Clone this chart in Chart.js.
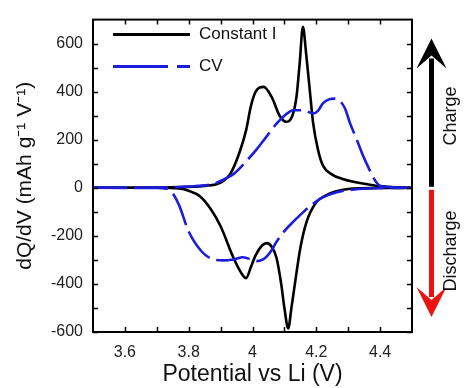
<!DOCTYPE html>
<html>
<head>
<meta charset="utf-8">
<script src="https://cdn.jsdelivr.net/npm/chart.js@4.4.1/dist/chart.umd.min.js"></script>
<style>
html, body { margin: 0; padding: 0; background: #fff; }
#wrap { width: 464px; height: 388px; }
</style>
</head>
<body>
<div id="wrap"><canvas id="grafico" width="464" height="388"></canvas></div>
<script>
// dQ/dV curves, Constant I vs CV (charge above zero, discharge below)

const ciChargeV = [3.5, 3.6, 3.7, 3.8, 3.85, 3.9, 3.93, 3.96, 3.98, 3.995, 4.01, 4.035, 4.06, 4.085, 4.105, 4.125, 4.138, 4.148, 4.158, 4.168, 4.18, 4.19, 4.205, 4.22, 4.25, 4.28, 4.32, 4.36, 4.4, 4.45, 4.5];
const ciChargeY = [0, 0, 1, 4, 8, 22, 57, 150, 240, 340, 400, 420, 378, 300, 275, 300, 380, 520, 670, 560, 400, 270, 160, 95, 55, 38, 24, 15, 7, 2, 0];

const ciDischargeV = [3.5, 3.7, 3.77, 3.8, 3.835, 3.87, 3.9, 3.94, 3.965, 3.98, 3.995, 4.01, 4.03, 4.045, 4.06, 4.075, 4.09, 4.1, 4.112, 4.122, 4.135, 4.15, 4.17, 4.2, 4.23, 4.26, 4.3, 4.4, 4.5];
const ciDischargeY = [0, 0, -3, -12, -35, -90, -160, -290, -355, -376, -330, -280, -240, -230, -245, -290, -400, -500, -585, -500, -380, -250, -140, -60, -32, -15, -5, -1, 0];

const cvChargeV = [3.5, 3.7, 3.75, 3.8, 3.85, 3.877, 3.91, 3.94, 3.98, 4.013, 4.045, 4.076, 4.1, 4.128, 4.16, 4.19, 4.205, 4.22, 4.24, 4.259, 4.275, 4.29, 4.306, 4.33, 4.347, 4.365, 4.379, 4.39, 4.4, 4.43, 4.5];
const cvChargeY = [0, 1, 2, 5, 10, 16, 35, 57, 110, 160, 215, 268, 300, 323, 323, 309, 320, 350, 368, 371, 360, 330, 268, 190, 132, 80, 43, 20, 8, 3, 0];

const cvDischargeV = [3.5, 3.7, 3.72, 3.745, 3.77, 3.8, 3.84, 3.877, 3.91, 3.94, 3.97, 4.0, 4.013, 4.03, 4.045, 4.06, 4.076, 4.1, 4.128, 4.16, 4.19, 4.22, 4.264, 4.32, 4.38, 4.5];
const cvDischargeY = [0, -1, -2, -15, -73, -182, -264, -298, -302, -298, -289, -300, -305, -300, -285, -260, -223, -180, -141, -100, -66, -40, -18, -7, -2, 0];

const xTicks = [3.6, 3.8, 4.0, 4.2, 4.4];
const xMinor = [3.7, 3.9, 4.1, 4.3];
const yTicks = [-600, -400, -200, 0, 200, 400, 600];
const yMinor = [-500, -300, -100, 100, 300, 500];

const legendLabels = ['Constant I', 'CV'];
const arrowLabels = ['Charge', 'Discharge'];

const FONTE = "'Liberation Sans', Arial, Helvetica, sans-serif";
const PRETO = '#000000';
const AZUL = '#1c1cdc';
const VERMELHO = '#ee1111';
const TRACO = [34, 7];

function pontos(xs, ys) {
    return xs.map((x, i) => ({ x: x, y: ys[i] }));
}

// moldura com ticks para dentro nos quatro lados
const moldura = {
    id: 'moldura',
    afterDatasetsDraw(chart) {
        const { ctx, chartArea: a, scales: { x, y } } = chart;
        ctx.save();
        ctx.strokeStyle = '#000';
        ctx.lineWidth = 1.5;
        ctx.beginPath();
        const len = 5;
        xTicks.concat(xMinor).forEach(v => {
            const px = Math.round(x.getPixelForValue(v)) + 0.5;
            ctx.moveTo(px, a.bottom); ctx.lineTo(px, a.bottom - len);
            ctx.moveTo(px, a.top); ctx.lineTo(px, a.top + len);
        });
        yTicks.concat(yMinor).forEach(v => {
            const py = Math.round(y.getPixelForValue(v)) + 0.5;
            ctx.moveTo(a.left, py); ctx.lineTo(a.left + len, py);
            ctx.moveTo(a.right, py); ctx.lineTo(a.right - len, py);
        });
        ctx.stroke();
        ctx.lineWidth = 2;
        ctx.strokeRect(a.left, a.top, a.right - a.left, a.bottom - a.top);
        ctx.restore();
    }
};

// legenda dentro da área do gráfico
const legenda = {
    id: 'legenda',
    afterDraw(chart) {
        const { ctx, chartArea: a } = chart;
        const itens = [
            { texto: legendLabels[0], cor: PRETO, dash: [] },
            { texto: legendLabels[1], cor: AZUL, dash: [55, 9] }
        ];
        ctx.save();
        ctx.font = '17px ' + FONTE;
        ctx.textBaseline = 'middle';
        itens.forEach((it, i) => {
            const yy = a.top + 15 + i * 32;
            ctx.strokeStyle = it.cor;
            ctx.lineWidth = 3;
            ctx.setLineDash(it.dash);
            ctx.beginPath();
            ctx.moveTo(a.left + 20, yy);
            ctx.lineTo(a.left + 97, yy);
            ctx.stroke();
            ctx.setLineDash([]);
            ctx.fillStyle = '#111';
            ctx.fillText(it.texto, a.left + 106, yy);
        });
        ctx.restore();
    }
};

// setas de carga / descarga à direita
function pontaSeta(ctx, x, tip, dir) {
    // dir = -1 para cima, +1 para baixo
    ctx.beginPath();
    ctx.moveTo(x, tip);
    ctx.lineTo(x + 15, tip - dir * 30);
    ctx.lineTo(x, tip - dir * 17);
    ctx.lineTo(x - 15, tip - dir * 30);
    ctx.closePath();
    ctx.fill();
}

const setas = {
    id: 'setas',
    afterDraw(chart) {
        const { ctx, chartArea: a, scales: { y } } = chart;
        const x0 = a.right + 19.5;
        const zero = y.getPixelForValue(0);
        const topo = a.top + 19;
        const baixo = a.bottom - 15;
        ctx.save();
        ctx.lineWidth = 5;
        ctx.strokeStyle = PRETO;
        ctx.fillStyle = PRETO;
        ctx.beginPath();
        ctx.moveTo(x0, zero - 1);
        ctx.lineTo(x0, topo + 20);
        ctx.stroke();
        pontaSeta(ctx, x0, topo, -1);

        ctx.strokeStyle = VERMELHO;
        ctx.fillStyle = VERMELHO;
        ctx.beginPath();
        ctx.moveTo(x0, zero + 2);
        ctx.lineTo(x0, baixo - 20);
        ctx.stroke();
        pontaSeta(ctx, x0, baixo, 1);

        ctx.fillStyle = '#111';
        ctx.font = '18px ' + FONTE;
        ctx.textAlign = 'center';
        ctx.textBaseline = 'middle';
        [[arrowLabels[0], 116], [arrowLabels[1], 251]].forEach(([t, cy]) => {
            ctx.save();
            ctx.translate(a.right + 39, cy);
            ctx.rotate(-Math.PI / 2);
            ctx.fillText(t, 0, 0);
            ctx.restore();
        });
        ctx.restore();
    }
};

const ctx = document.getElementById('grafico').getContext('2d');

const linha = (dados, cor, dash, ordem) => ({
    data: dados,
    borderColor: cor,
    borderWidth: 2.6,
    borderDash: dash,
    pointRadius: 0,
    fill: false,
    cubicInterpolationMode: 'monotone',
    order: ordem
});

new Chart(ctx, {
    type: 'line',
    data: {
        datasets: [
            linha(pontos(cvChargeV, cvChargeY), AZUL, TRACO, 0),
            linha(pontos(cvDischargeV, cvDischargeY), AZUL, TRACO, 0),
            linha(pontos(ciChargeV, ciChargeY), PRETO, [], 1),
            linha(pontos(ciDischargeV, ciDischargeY), PRETO, [], 1)
        ]
    },
    options: {
        responsive: false,
        animation: false,
        devicePixelRatio: 1,
        layout: { padding: { top: 15, right: 52, left: 0, bottom: 0 } },
        plugins: { legend: { display: false }, tooltip: { enabled: false } },
        scales: {
            x: {
                type: 'linear',
                min: 3.5,
                max: 4.5,
                grid: { display: false, drawTicks: false },
                border: { display: false },
                afterBuildTicks: s => { s.ticks = xTicks.map(v => ({ value: v })); },
                afterFit: s => { s.height = 56; },
                ticks: {
                    padding: 11,
                    color: '#222',
                    font: { size: 16, family: FONTE },
                    maxRotation: 0,
                    callback: v => String(Math.round(v * 10) / 10)
                },
                title: {
                    display: true,
                    text: 'Potential vs Li (V)',
                    color: '#111',
                    font: { size: 23, family: FONTE },
                    padding: { top: 0, bottom: 0 }
                }
            },
            y: {
                type: 'linear',
                min: -600,
                max: 700,
                grid: { display: false, drawTicks: false },
                border: { display: false },
                afterBuildTicks: s => { s.ticks = yTicks.map(v => ({ value: v })); },
                afterFit: s => { s.width = 93; },
                ticks: {
                    padding: 10,
                    color: '#222',
                    font: { size: 16, family: FONTE },
                    callback: v => String(v)
                },
                title: {
                    display: true,
                    text: 'dQ/dV (mAh g\u207B\u00B9 V\u207B\u00B9)',
                    color: '#111',
                    font: { size: 21, family: FONTE },
                    padding: { top: 13, bottom: 0 }
                }
            }
        }
    },
    plugins: [moldura, legenda, setas]
});
</script>
</body>
</html>
